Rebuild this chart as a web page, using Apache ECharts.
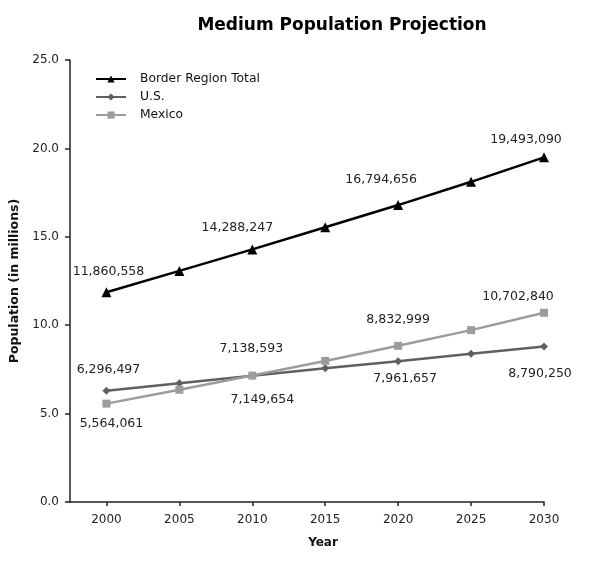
<!DOCTYPE html>
<html>
<head>
<meta charset="utf-8">
<title>Medium Population Projection</title>
<script src="https://cdn.jsdelivr.net/npm/echarts@6/dist/echarts.min.js"></script>
<style>
  html, body { margin: 0; padding: 0; background: #ffffff; }
  #chart { width: 603px; height: 563px; }
</style>
</head>
<body>
<div id="chart"></div>
<script>
// Projection years and population counts (persons)
const years = [2000, 2005, 2010, 2015, 2020, 2025, 2030];
const borderTotal = [11860558, 13070000, 14288247, 15540000, 16794656, 18110000, 19493090];
const usPop       = [6296497, 6720000, 7138593, 7560000, 7961657, 8390000, 8790250];
const mexicoPop   = [5564061, 6350000, 7149654, 7980000, 8832999, 9720000, 10702840];
const yTicks = [0, 5, 10, 15, 20, 25];

// Data-label placement (pixel offset from the marker centre) for labelled years
const borderLabelOffsets = { 2000: [2, -21], 2010: [-15, -22], 2020: [-17, -25], 2030: [-18, -18] };
const usLabelOffsets     = { 2000: [2, -21], 2010: [-1, -27], 2020: [7, 18], 2030: [-4, 27] };
const mexicoLabelOffsets = { 2000: [5, 20], 2010: [10, 24], 2020: [0, -26], 2030: [-26, -16] };

const FONT = '"DejaVu Sans", Verdana, sans-serif';

function fmt(n) {
  return n.toString().replace(/\B(?=(\d{3})+(?!\d))/g, ',');
}

function buildData(values, offsets) {
  return years.map((yr, i) => {
    const item = { value: [yr, values[i] / 1e6], raw: values[i] };
    const off = offsets[yr];
    if (off) {
      item.label = {
        show: true,
        position: 'inside',
        offset: off,
        formatter: fmt(values[i]),
        fontFamily: FONT,
        fontSize: 12.5,
        color: '#222222'
      };
    }
    return item;
  });
}

function lineSeries(name, values, offsets, color, symbol, size) {
  return {
    name: name,
    type: 'line',
    data: buildData(values, offsets),
    symbol: symbol,
    symbolSize: size,
    lineStyle: { color: color, width: 2.5 },
    itemStyle: { color: color },
    label: { show: false },
    emphasis: { disabled: true },
    animation: false,
    z: 3
  };
}

const chart = echarts.init(document.getElementById('chart'), null, { renderer: 'canvas' });

chart.setOption({
  backgroundColor: '#ffffff',
  animation: false,
  title: {
    text: 'Medium Population Projection',
    left: 342,
    textAlign: 'center',
    top: 17,
    padding: 0,
    textStyle: { fontFamily: FONT, fontSize: 17, fontWeight: 'bold', color: '#000000' }
  },
  legend: {
    orient: 'vertical',
    left: 95,
    top: 72,
    itemWidth: 30,
    itemHeight: 9,
    itemGap: 4,
    padding: 0,
    textStyle: { fontFamily: FONT, fontSize: 12.3, color: '#111111', lineHeight: 14, padding: [0, 0, 0, 9] },
    data: ['Border Region Total', 'U.S.', 'Mexico']
  },
  grid: { left: 70, right: 59, top: 60, bottom: 61, containLabel: false },
  xAxis: {
    type: 'value',
    min: 1997.5,
    max: 2030,
    name: 'Year',
    nameLocation: 'middle',
    nameGap: 35,
    nameTextStyle: { fontFamily: FONT, fontSize: 12, fontWeight: 'bold', color: '#111111', padding: [0, 0, 0, 32] },
    axisLine: { show: true, lineStyle: { color: '#222222', width: 1.5 } },
    axisTick: { show: true, inside: false, length: 4, customValues: years, lineStyle: { color: '#222222', width: 1.5 } },
    axisLabel: { customValues: years, margin: 12, fontFamily: FONT, fontSize: 12, color: '#222222', formatter: v => String(v) },
    splitLine: { show: false }
  },
  yAxis: {
    type: 'value',
    min: 0,
    max: 25,
    interval: 5,
    name: 'Population (in millions)',
    nameLocation: 'middle',
    nameGap: 43,
    nameTextStyle: { fontFamily: FONT, fontSize: 12.5, fontWeight: 'bold', color: '#111111' },
    axisLine: { show: true, lineStyle: { color: '#222222', width: 1.5 } },
    axisTick: { show: true, inside: false, length: 5, lineStyle: { color: '#222222', width: 1.5 } },
    axisLabel: { margin: 11, fontFamily: FONT, fontSize: 12, color: '#222222', customValues: yTicks, formatter: v => v.toFixed(1) },
    splitLine: { show: false }
  },
  series: [
    lineSeries('Border Region Total', borderTotal, borderLabelOffsets, '#000000', 'triangle', 10),
    lineSeries('U.S.', usPop, usLabelOffsets, '#606060', 'diamond', 8),
    lineSeries('Mexico', mexicoPop, mexicoLabelOffsets, '#9c9c9c', 'rect', 8)
  ]
});
</script>
</body>
</html>
